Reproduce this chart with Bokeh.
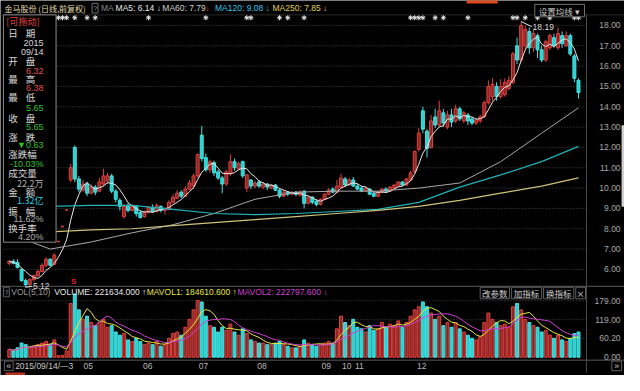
from bokeh.plotting import figure
from bokeh.models import Range1d
from bokeh.core.properties import value
from bokeh.embed import file_html
from bokeh.resources import INLINE
import pandas as pd

# ---------------- data ----------------
opens = [6.30, 6.40, 6.35, 6.00, 5.45, 5.25, 5.50, 5.70, 5.90, 6.20,
         6.50, 6.25, 7.37, 8.11, 8.92, 10.40, 12.00, 10.45, 9.90, 10.20,
         9.75, 10.05, 9.85, 10.20, 10.35, 10.60, 9.85, 9.40, 8.60, 9.15,
         8.90, 9.10, 8.80, 8.60, 8.80, 9.05, 8.85, 9.10, 8.90, 8.95,
         9.30, 9.50, 9.80, 9.60, 9.95, 10.10, 10.60, 12.60, 11.50, 10.90,
         11.25, 10.80, 10.50, 10.20, 10.70, 11.30, 10.95, 11.30, 10.00, 10.40,
         10.10, 10.30, 10.05, 10.20, 10.00, 10.15, 9.90, 9.60, 9.80, 9.70,
         9.80, 9.65, 9.85, 9.25, 9.55, 9.35, 9.20, 9.45, 9.70, 9.95,
         9.80, 10.05, 10.45, 10.15, 10.40, 10.10, 10.00, 9.85, 9.95, 9.75,
         9.60, 9.80, 9.95, 9.85, 10.00, 10.10, 10.30, 10.15, 10.40, 10.80,
         11.90, 13.80, 12.80, 12.00, 13.50, 13.10, 13.70, 13.00, 13.60, 13.30,
         13.90, 13.30, 13.60, 13.40, 13.20, 13.30, 13.50, 14.20, 14.50, 15.00,
         14.50, 14.60, 14.90, 15.20, 17.00, 16.30, 17.00, 17.70, 16.90, 17.50,
         16.80, 16.30, 16.90, 17.40, 16.90, 17.50, 17.00, 17.50, 16.50, 15.30]
highs = [6.45, 6.50, 6.50, 6.05, 5.55, 5.55, 5.75, 6.00, 6.30, 6.60,
         6.55, 6.80, 7.37, 8.11, 8.92, 11.20, 12.10, 10.60, 10.40, 10.30,
         10.20, 10.15, 10.50, 10.95, 10.75, 10.70, 9.95, 9.50, 9.20, 9.25,
         9.20, 9.15, 8.90, 8.90, 9.10, 9.20, 9.25, 9.15, 9.05, 9.40,
         9.70, 9.90, 9.90, 10.10, 10.40, 10.70, 11.70, 13.05, 11.70, 11.40,
         11.35, 10.90, 10.60, 10.90, 11.65, 11.45, 11.30, 11.35, 10.70, 10.45,
         10.35, 10.40, 10.30, 10.25, 10.20, 10.20, 9.95, 9.90, 9.85, 9.85,
         9.85, 9.90, 9.90, 9.60, 9.60, 9.45, 9.50, 9.75, 10.00, 10.05,
         10.40, 10.70, 10.55, 10.50, 10.55, 10.20, 10.10, 10.05, 10.00, 9.80,
         9.85, 10.00, 10.05, 10.10, 10.20, 10.35, 10.35, 10.50, 10.85, 11.85,
         12.95, 14.00, 12.90, 13.60, 13.90, 14.30, 13.90, 13.80, 13.90, 14.10,
         14.00, 13.80, 13.70, 13.50, 13.45, 13.60, 14.30, 15.30, 15.40, 15.20,
         15.35, 15.40, 15.50, 16.70, 17.40, 18.19, 18.00, 17.90, 17.80, 17.60,
         17.00, 17.30, 17.60, 17.60, 17.90, 17.70, 17.70, 17.60, 16.60, 15.40]
lows = [6.20, 6.25, 6.05, 5.40, 5.12, 5.20, 5.40, 5.60, 5.85, 6.10,
        6.15, 6.20, 7.37, 8.11, 8.92, 10.30, 10.30, 9.80, 9.80, 9.60,
        9.70, 9.65, 9.80, 10.10, 10.20, 9.75, 9.30, 8.90, 8.50, 8.80,
        8.85, 8.60, 8.50, 8.55, 8.75, 8.80, 8.80, 8.80, 8.70, 8.90,
        9.25, 9.45, 9.50, 9.55, 9.90, 9.95, 10.50, 11.30, 10.80, 10.75,
        10.60, 10.40, 9.75, 10.10, 10.60, 10.85, 10.90, 10.50, 9.80, 9.95,
        10.00, 10.00, 9.95, 9.90, 9.95, 9.85, 9.50, 9.55, 9.60, 9.65,
        9.60, 9.60, 9.00, 9.20, 9.20, 9.10, 9.15, 9.40, 9.65, 9.75,
        9.75, 10.00, 10.05, 10.10, 10.05, 9.90, 9.80, 9.80, 9.65, 9.55,
        9.55, 9.75, 9.80, 9.80, 9.95, 10.05, 10.10, 10.10, 10.35, 10.75,
        11.80, 12.70, 11.50, 11.95, 12.95, 13.00, 13.00, 12.90, 13.00, 13.20,
        13.30, 13.20, 13.10, 13.10, 13.10, 13.20, 13.45, 14.10, 14.30, 14.30,
        14.40, 14.50, 14.80, 15.10, 16.10, 16.20, 16.80, 16.60, 16.70, 16.40,
        16.20, 16.20, 16.80, 16.90, 16.80, 16.90, 16.95, 16.50, 15.20, 14.40]
closes = [6.40, 6.30, 6.10, 5.45, 5.25, 5.50, 5.70, 5.90, 6.20, 6.50,
          6.20, 6.70, 7.37, 8.11, 8.92, 11.00, 10.45, 9.95, 10.20, 9.75,
          10.05, 9.80, 10.30, 10.60, 10.60, 9.85, 9.45, 9.10, 9.10, 8.90,
          9.10, 8.75, 8.55, 8.80, 9.05, 8.85, 9.15, 8.90, 9.00, 9.30,
          9.55, 9.75, 9.60, 9.95, 10.25, 10.60, 11.65, 11.45, 10.90, 11.30,
          10.75, 10.50, 10.20, 10.80, 11.30, 11.00, 11.20, 10.60, 10.65, 10.10,
          10.25, 10.10, 10.20, 10.05, 10.15, 9.90, 9.60, 9.80, 9.70, 9.80,
          9.70, 9.80, 9.25, 9.55, 9.30, 9.20, 9.45, 9.70, 9.90, 9.80,
          10.10, 10.50, 10.15, 10.40, 10.10, 9.95, 9.85, 10.00, 9.70, 9.60,
          9.80, 9.95, 9.85, 10.05, 10.15, 10.30, 10.15, 10.45, 10.75, 11.80,
          12.70, 12.90, 11.95, 13.30, 13.10, 13.80, 13.20, 13.60, 13.25, 13.90,
          13.40, 13.70, 13.30, 13.20, 13.35, 13.50, 14.20, 15.00, 15.10, 14.50,
          15.00, 15.20, 15.30, 16.60, 16.30, 18.00, 17.80, 16.90, 17.60, 16.80,
          16.30, 17.20, 17.50, 17.00, 17.60, 17.10, 17.50, 16.60, 15.40, 14.70]
volumes = [25, 20, 30, 45, 40, 30, 35, 40, 45, 50,
           40, 55, 5, 6, 20, 170, 200, 150, 120, 130,
           110, 100, 110, 120, 95, 100, 80, 70, 75, 55,
           50, 60, 50, 40, 45, 40, 50, 35, 40, 60,
           75, 80, 70, 95, 120, 150, 180, 175, 130, 100,
           95, 80, 95, 85, 105, 80, 70, 90, 75, 55,
           50, 45, 45, 40, 40, 45, 50, 40, 35, 30,
           30, 35, 55, 45, 40, 35, 40, 45, 50, 45,
           90, 130, 110, 100, 120, 95, 90, 80, 100, 85,
           90, 110, 95, 105, 100, 115, 95, 110, 130, 150,
           160, 175, 160, 140, 120, 130, 100, 110, 95, 110,
           90, 80, 70, 60, 55, 65, 110, 140, 120, 110,
           100, 105, 95, 160, 170, 150, 120, 110, 100, 95,
           80, 85, 70, 60, 70, 55, 50, 60, 75, 80]
ma_idx = [0, 10, 20, 30, 40, 50, 60, 70, 80, 90, 100, 110, 120, 130, 139]
ma60 = [7.75, 7.00, 7.35, 7.80, 8.20, 8.75, 9.45, 9.80, 9.85, 9.85, 10.00, 10.25, 11.30, 12.70, 13.95]
ma120 = [9.05, 9.10, 9.15, 9.15, 8.95, 8.75, 8.70, 8.75, 8.85, 8.95, 9.30, 10.05, 10.65, 11.30, 12.05]
ma250 = [7.80, 7.85, 7.95, 8.00, 8.15, 8.30, 8.45, 8.60, 8.75, 8.90, 9.10, 9.40, 9.75, 10.10, 10.50]
price_ticks = [6, 7, 8, 9, 10, 11, 12, 13, 14, 15, 16, 17, 18]
vol_ticks = [0.0, 60.2, 119.0, 179.0]
month_labels = ["05", "06", "07", "08", "09", "10", "11", "12"]
month_idx = [19.3, 33.8, 47.4, 61.7, 77.4, 82.4, 85.5, 100.7]
marker_idx = [10, 11, 12, 13, 14, 16, 19, 21, 34, 48, 58, 59, 66, 68, 72,
              98, 99, 100, 101, 104, 106, 112, 123, 124, 126, 129, 132, 138, 139]

# ---------------- geometry (reference pixel space 640x391) ----------------
W, H = 624, 375
REF_W, REF_H = 640, 391
STEP, X0 = 4.2, 9.0


def X(xr):
    return (xr - X0) / STEP


def PY(yr):
    return 18 - (yr - 26) / 21.2


def VY(yr):
    return (372 - yr) / 0.3296


p = figure(width=W, height=H, x_range=Range1d(X(0), X(REF_W)),
           y_range=Range1d(PY(REF_H), PY(0)), output_backend="svg",
           toolbar_location=None, min_border=0, background_fill_color="black",
           border_fill_color="black", outline_line_color=None)
p.extra_y_ranges = {"vol": Range1d(VY(REF_H), VY(0))}
p.xaxis.visible = False
p.yaxis.visible = False
p.grid.visible = False

CJK = "Noto Sans CJK SC"
LAT = "Liberation Sans"


def txt(xr, yr, s, color, size=8.5, align="left", font=CJK, bold=False):
    p.text(x=[X(xr)], y=[PY(yr)], text=[s], text_color=color,
           text_font=value(font), text_font_size=f"{size}px",
           text_align=align, text_baseline="middle",
           text_font_style="bold" if bold else "normal")


def box(x0, y0, x1, y1, line="#707070", fill="black"):
    p.quad(left=[X(x0)], right=[X(x1)], top=[PY(y0)], bottom=[PY(y1)],
           fill_color=fill, line_color=line, line_width=1)


def seg(x0, y0, x1, y1, color, dash="solid", width=1):
    p.segment(x0=[X(x0)], y0=[PY(y0)], x1=[X(x1)], y1=[PY(y1)],
              line_color=color, line_dash=dash, line_width=width)


# frame lines
seg(0, 298, 640, 298, "#5a5a5a")
seg(0, 375, 640, 375, "#5a5a5a")
seg(601, 15, 601, 388, "#4a4a4a")
seg(0, 15, 640, 15, "#2a2a2a")

# grid lines
p.segment(x0=X(3), x1=X(601), y0=price_ticks, y1=price_ticks,
          line_color="#4a4a4a", line_dash="1 2")
p.segment(x0=X(3), x1=X(601), y0=vol_ticks[1:], y1=vol_ticks[1:],
          line_color="#4a4a4a", line_dash="1 2", y_range_name="vol")

# ---------------- candles ----------------
df = pd.DataFrame({"o": opens, "h": highs, "l": lows, "c": closes, "v": volumes})
df["i"] = range(len(df))
df["top"] = df[["o", "c"]].max(axis=1)
df["bot"] = df[["o", "c"]].min(axis=1)
up = df[df.c >= df.o]
dn = df[df.c < df.o]
RED, RED_F = "#e0403c", "#8c2626"
CY, CY_F = "#40e4e4", "#30cfcf"
BW = 0.72

p.segment(x0=up.i, x1=up.i, y0=up.l, y1=up.h, line_color=RED)
p.segment(x0=dn.i, x1=dn.i, y0=dn.l, y1=dn.h, line_color=CY)
upb = up[up.top - up.bot > 0.01]
p.vbar(x=upb.i, width=BW, top=upb.top, bottom=upb.bot,
       fill_color=RED_F, line_color=RED)
p.vbar(x=dn.i, width=BW, top=dn.top, bottom=dn.bot,
       fill_color=CY_F, line_color=CY)
flat = up[up.top - up.bot <= 0.01]
p.segment(x0=flat.i - BW / 2, x1=flat.i + BW / 2, y0=flat.c, y1=flat.c,
          line_color=RED, line_width=1.5)

# moving averages
ma5 = df.c.rolling(5, min_periods=1).mean()
p.line(df.i, ma5, line_color="#e8e8e8", line_width=1)
p.line(ma_idx, ma60, line_color="#a8a8a8", line_width=1)
p.line(ma_idx, ma120, line_color="#1fb4b8", line_width=1.2)
p.line(ma_idx, ma250, line_color="#cfc27a", line_width=1.2)

# volume
p.vbar(x=up.i, width=BW, top=up.v, bottom=0, fill_color=RED_F, line_color=RED,
       y_range_name="vol")
p.vbar(x=dn.i, width=BW, top=dn.v, bottom=0, fill_color=CY_F, line_color=CY,
       y_range_name="vol")
mav1 = df.v.rolling(5, min_periods=1).mean()
mav2 = df.v.rolling(10, min_periods=1).mean()
p.line(df.i, mav1, line_color="#e6e640", y_range_name="vol")
p.line(df.i, mav2, line_color="#d040d0", y_range_name="vol")

# info markers row
p.scatter(x=marker_idx, y=[PY(18)] * len(marker_idx), marker="asterisk",
          size=5, line_color="#e8e8e8")

# high / low annotations
hi_i = int(df.h.idxmax())
lo_i = int(df.l.idxmin())
p.segment(x0=[hi_i], y0=[df.h[hi_i]], x1=[hi_i + 2.6], y1=[df.h[hi_i] - 0.25],
          line_color="#e8e8e8")
p.text(x=[hi_i + 2.8], y=[df.h[hi_i] - 0.25], text=[f"{df.h[hi_i]:.2f}"],
       text_color="#d8d8d8", text_font=value(LAT), text_font_size="8.5px",
       text_baseline="middle")
p.segment(x0=[lo_i], y0=[df.l[lo_i]], x1=[lo_i + 1.6], y1=[df.l[lo_i] + 0.05],
          line_color="#e8e8e8")
p.text(x=[lo_i + 1.8], y=[df.l[lo_i] + 0.05], text=[f"{df.l[lo_i]:.2f}"],
       text_color="#d8d8d8", text_font=value(LAT), text_font_size="8.5px",
       text_baseline="middle")
txt(75, 293, "S", "#e02020", size=8, font=LAT, bold=True, align="center")

# axis labels (right)
p.text(x=[X(636)] * len(price_ticks), y=price_ticks,
       text=[f"{t:.2f}" for t in price_ticks], text_color="#a8a8a8",
       text_font=value(LAT), text_font_size="8.5px", text_align="right",
       text_baseline="middle")
p.text(x=[X(636)] * len(vol_ticks), y=vol_ticks,
       text=[f"{t:.2f}" for t in vol_ticks], text_color="#a8a8a8",
       text_font=value(LAT), text_font_size="8.5px", text_align="right",
       text_baseline="middle", y_range_name="vol")
box(637, 130, 640, 215, line=None, fill="#d0d0d0")

# month labels
p.text(x=month_idx, y=[PY(381)] * len(month_idx), text=month_labels,
       text_color="#b8b8b8", text_font=value(LAT), text_font_size="8.5px",
       text_align="center", text_baseline="middle")
box(4, 376, 13, 386, line="#606060")
txt(8.5, 381, "«", "#c8c8c8", size=9, font=LAT, align="center")
box(627, 376, 637, 386, line="#606060")
txt(632, 381, "»", "#c8c8c8", size=9, font=LAT, align="center")
txt(15, 381, "2015/09/14/—3", "#c8c8c8", size=8.5, font=LAT)
box(5, 388, 25, 393, line=None, fill="#c03020")

# ---------------- header ----------------
box(478, -2, 510, 3, line=None, fill="#e04818")
txt(4, 8, "金马股份 (日线,前复权)", "#e2dcae", size=8)
box(94, 3, 100, 13, line="#707070")
txt(97, 8, "?", "#909090", size=7, font=LAT, align="center")
txt(103, 8, "MA", "#8a8a8a", size=8.5, font=LAT)
txt(118, 8, "MA5: 6.14 ↓", "#e8e8e8", size=8.5, font=LAT)
txt(166, 8, "MA60: 7.79", "#d0d0d0", size=8.5, font=LAT)
txt(210, 8, "↓", "#e04040", size=8.5, font=LAT)
txt(220, 8, "MA120: 9.08 ↓", "#30c8e8", size=8.5, font=LAT)
txt(279, 8, "MA250: 7.85 ↓", "#e0d060", size=8.5, font=LAT)
box(548, 4, 599, 17, line="#707070")
txt(573, 10.5, "设置均线 ▾", "#c8c8c8", size=8.5, align="center")

# volume header
box(3, 299, 9, 309, line="#606060")
txt(6, 304, "?", "#909090", size=7, font=LAT, align="center")
txt(11, 304, "VOL(5,10)", "#9a9a9a", size=8.5, font=LAT)
txt(55, 304, "VOLUME: 221634.000 ↑", "#e8e8e8", size=8.5, font=LAT)
txt(150, 304, "MAVOL1: 184610.600 ↑", "#e6e640", size=8.5, font=LAT)
txt(243, 304, "MAVOL2: 222797.600 ↓", "#d040d0", size=8.5, font=LAT)
for (a, b, s) in [(492, 522, "改参数"), (524, 555, "加指标"), (557, 588, "换指标"), (590, 600, "×")]:
    box(a, 299, b, 311, line="#606060")
    txt((a + b) / 2, 305, s, "#d0d0d0", size=8.5, align="center")

# ---------------- info panel ----------------
box(3, 15, 57, 252, line="#8a8a8a")
W1, G1, R1, C1, D1 = "#d8d8d8", "#30c030", "#e05050", "#30d0e0", "#b0b0b0"
labels = [("日期", 34), ("开盘", 63), ("最高", 82), ("最低", 101), ("收盘", 122),
          ("涨跌", 142), ("金额", 200), ("振幅", 219)]
for s, y in labels:
    txt(8, y, s[0], W1, size=9.5)
    txt(26, y, s[1], W1, size=9.5)
for s, y in [("涨跌幅", 160), ("成交量", 180), ("换手率", 237)]:
    txt(8, y, s, W1, size=9.5)
txt(6, 22, "[可拖动]", "#e04040", size=9)
vals = [("2015", 44, W1), ("09/14", 54, W1), ("6.32", 73, R1), ("6.38", 91, R1),
        ("5.65", 112, G1), ("5.65", 132, G1), ("▼0.63", 151, G1),
        ("-10.03%", 170, G1), ("22.2万", 191, D1), ("1.32亿", 209, C1),
        ("11.62%", 228, D1), ("4.20%", 247, D1)]
for s, y, c in vals:
    txt(44, y, s, c, size=9, font=LAT if "万" not in s and "亿" not in s else CJK, align="right")

open("out.html", "w").write(file_html(p, INLINE))
